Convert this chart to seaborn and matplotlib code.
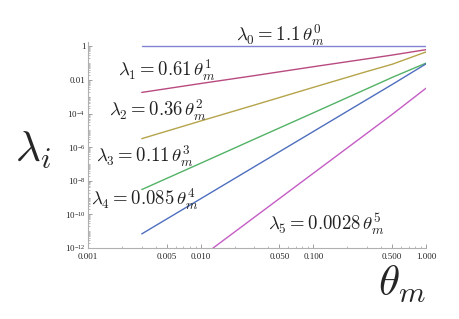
import numpy as np
import pandas as pd
import matplotlib
matplotlib.use('Agg')
import matplotlib.pyplot as plt
from matplotlib.ticker import FixedLocator, LogLocator, NullFormatter
import seaborn as sns

# ---- data ----
theta = [0.003, 0.01, 0.03, 0.1, 0.3, 0.5, 1.0]
lam0 = [1.1, 1.1, 1.1, 1.1, 1.1, 1.1, 1.1]
lam1 = [1.8e-3, 6.1e-3, 1.8e-2, 6.1e-2, 0.18, 0.30, 0.63]
lam2 = [3.2e-6, 3.6e-5, 3.2e-4, 3.6e-3, 3.2e-2, 0.085, 0.46]
lam3 = [3.0e-9, 1.1e-7, 3.0e-6, 1.1e-4, 3.0e-3, 1.4e-2, 0.10]
lam4 = [6.9e-12, 8.5e-10, 6.9e-8, 8.5e-6, 6.9e-4, 5.3e-3, 0.09]
theta5 = [0.01, 0.03, 0.1, 0.3, 0.5, 1.0]
lam5 = [2.8e-13, 6.8e-11, 2.8e-8, 6.8e-6, 8.8e-5, 3.2e-3]

labels = [r'$\lambda_0 = 1.1\,\theta_m^0$',
          r'$\lambda_1 = 0.61\,\theta_m^1$',
          r'$\lambda_2 = 0.36\,\theta_m^2$',
          r'$\lambda_3 = 0.11\,\theta_m^3$',
          r'$\lambda_4 = 0.085\,\theta_m^4$',
          r'$\lambda_5 = 0.0028\,\theta_m^5$']
colors = ['#8282d2', '#b84a80', '#b5a44a', '#52b266', '#4e6ebe', '#c45cc4']

xticks = [0.001, 0.005, 0.01, 0.05, 0.1, 0.5, 1.0]
xticklabels = ['0.001', '0.005', '0.010', '0.050', '0.100', '0.500', '1.000']
yticks = [1, 1e-2, 1e-4, 1e-6, 1e-8, 1e-10, 1e-12]
yticklabels = ['1', '0.01', r'$\mathregular{10^{-4}}$', r'$\mathregular{10^{-6}}$',
               r'$\mathregular{10^{-8}}$', r'$\mathregular{10^{-10}}$',
               r'$\mathregular{10^{-12}}$']

sns.set_style('ticks')
plt.rcParams['font.family'] = ['Liberation Serif', 'DejaVu Serif']
plt.rcParams['mathtext.fontset'] = 'cm'

fig = plt.figure(figsize=(4.6, 3.19), dpi=100)
ax = fig.add_axes([88/460, 1-248/319, (426-88)/460, (248-42)/319])

series = [(theta, lam0), (theta, lam1), (theta, lam2), (theta, lam3), (theta, lam4), (theta5, lam5)]
for (tx, ty), c in zip(series, colors):
    sns.lineplot(x=tx, y=ty, color=c, linewidth=1.0, ax=ax)

ax.set_xscale('log')
ax.set_yscale('log')
ax.set_xlim(0.001, 1.0)
ax.set_ylim(1e-12, 1.8)

ax.xaxis.set_major_locator(FixedLocator(xticks))
ax.set_xticklabels(xticklabels)
ax.xaxis.set_minor_locator(LogLocator(base=10, subs=np.arange(2, 10), numticks=20))
ax.xaxis.set_minor_formatter(NullFormatter())
ax.yaxis.set_major_locator(FixedLocator(yticks))
ax.set_yticklabels(yticklabels)
ax.yaxis.set_minor_locator(LogLocator(base=10, subs=np.arange(1, 10), numticks=40))
ax.yaxis.set_minor_formatter(NullFormatter())

for s in ['top', 'right']:
    ax.spines[s].set_visible(False)
for s in ['left', 'bottom']:
    ax.spines[s].set_color('#b0b0b0')
    ax.spines[s].set_linewidth(0.8)
ax.tick_params(which='major', direction='in', length=3, width=0.6, color='#909090',
               labelsize=6.5, pad=2)
ax.tick_params(axis='x', which='major', pad=3.5)
ax.tick_params(which='minor', direction='in', length=1.5, width=0.5, color='#a0a0a0')

# curve labels
pos = [(280, 35), (167, 70), (158, 110), (145, 156), (145, 199), (326, 224)]
for (px, py), lab in zip(pos, labels):
    fig.text(px/460, 1-py/319, lab, ha='center', va='center', fontsize=13.5, color='#222222')

fig.text(33/460, 1-150/319, r'$\lambda_i$', ha='center', va='center', fontsize=31)
fig.text(402/460, 1-284/319, r'$\theta_m$', ha='center', va='center', fontsize=31)

fig.savefig('out.png', dpi=100)
